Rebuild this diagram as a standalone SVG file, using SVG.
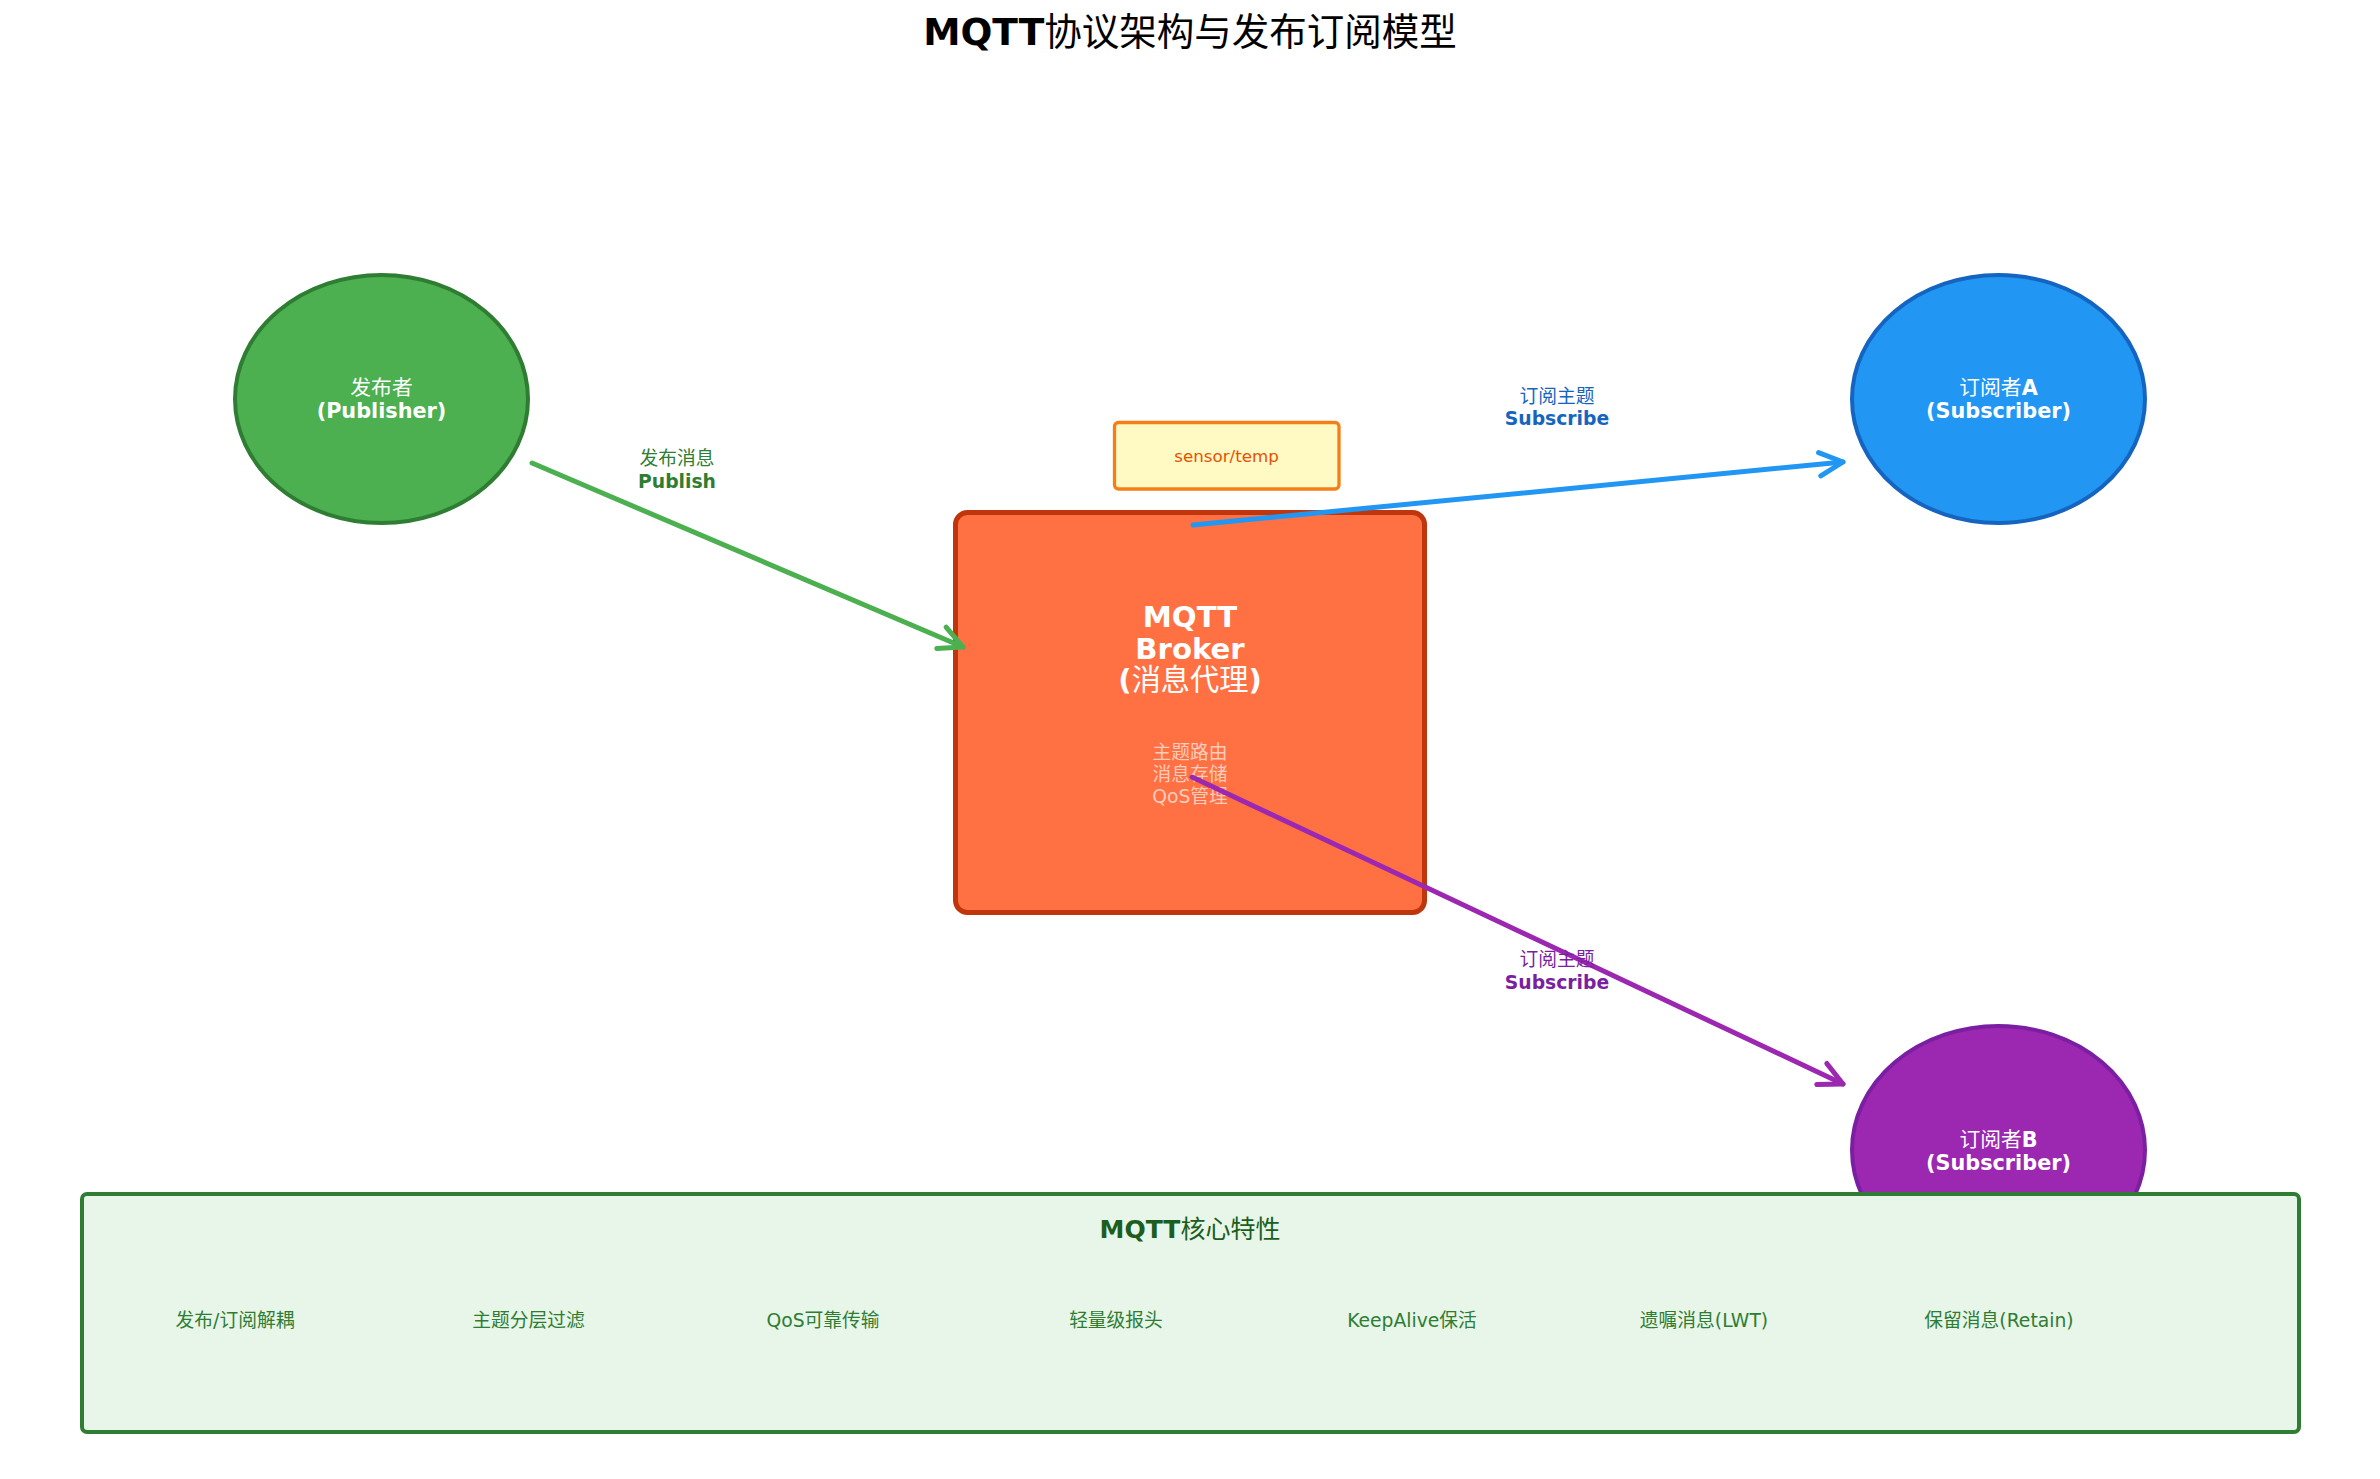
<svg xmlns="http://www.w3.org/2000/svg" width="2380" height="1479" viewBox="0 0 2380 1479">
<style>
text{font-family:"DejaVu Sans","Noto Sans CJK SC",sans-serif;text-anchor:middle}
.b{font-weight:bold}
.node-label{fill:#ffffff;font-size:20.8px}
.edge-label{font-size:18.75px}
.feat{fill:#2E7D32;font-size:18.75px}
.conn{fill:none;stroke-width:5;stroke-linecap:round}
.head{fill:none;stroke-width:5;stroke-linecap:round;stroke-linejoin:round}
</style>
<defs>
<marker id="arrG" markerUnits="userSpaceOnUse" markerWidth="60" markerHeight="60" viewBox="-30 -30 60 60" refX="0" refY="0" orient="auto" overflow="visible"><path class="head" stroke="#4CAF50" d="M-23.4,-11.7 L0,0 L-23.4,11.7"/></marker>
<marker id="arrB" markerUnits="userSpaceOnUse" markerWidth="60" markerHeight="60" viewBox="-30 -30 60 60" refX="0" refY="0" orient="auto" overflow="visible"><path class="head" stroke="#2196F3" d="M-23.4,-11.7 L0,0 L-23.4,11.7"/></marker>
<marker id="arrP" markerUnits="userSpaceOnUse" markerWidth="60" markerHeight="60" viewBox="-30 -30 60 60" refX="0" refY="0" orient="auto" overflow="visible"><path class="head" stroke="#9C27B0" d="M-23.4,-11.7 L0,0 L-23.4,11.7"/></marker>
</defs>
<rect width="2380" height="1479" fill="#ffffff"/>
<text x="1190" y="45" font-size="37.5px" fill="#000000"><tspan class="b">MQTT</tspan>协议架构与发布订阅模型</text>

<g id="publisher">
<ellipse cx="381.5" cy="399" rx="146.5" ry="124" fill="#4CAF50" stroke="#2E7D32" stroke-width="4"/>
<text class="node-label" x="381.5" y="395">发布者</text>
<text class="node-label b" x="381.5" y="418">(Publisher)</text>
</g>

<g id="subscriberA">
<ellipse cx="1998.5" cy="399" rx="146.5" ry="124" fill="#2196F3" stroke="#1565C0" stroke-width="4"/>
<text class="node-label" x="1998.5" y="395">订阅者<tspan class="b">A</tspan></text>
<text class="node-label b" x="1998.5" y="418">(Subscriber)</text>
</g>

<g id="subscriberB">
<ellipse cx="1998.5" cy="1150" rx="146.5" ry="124" fill="#9C27B0" stroke="#7B1FA2" stroke-width="4"/>
<text class="node-label" x="1998.5" y="1147">订阅者<tspan class="b">B</tspan></text>
<text class="node-label b" x="1998.5" y="1170">(Subscriber)</text>
</g>

<g id="broker">
<rect x="955.5" y="512.5" width="469" height="400" rx="12" fill="#FF7043" stroke="#BF360C" stroke-width="5"/>
<text x="1190" y="627" font-size="29.2px" fill="#ffffff" class="b">MQTT</text>
<text x="1190" y="658.5" font-size="29.2px" fill="#ffffff" class="b">Broker</text>
<text x="1190" y="690" font-size="29.2px" fill="#ffffff"><tspan class="b">(</tspan>消息代理<tspan class="b">)</tspan></text>
<text x="1190" y="759" font-size="18.75px" fill="#FFCCBC">主题路由</text>
<text x="1190" y="781" font-size="18.75px" fill="#FFCCBC">消息存储</text>
<text x="1190" y="803" font-size="18.75px" fill="#FFCCBC">QoS管理</text>
</g>

<g id="topic">
<rect x="1114.5" y="422.5" width="224.5" height="66.5" rx="4" fill="#FFF9C4" stroke="#F57F17" stroke-width="3.3"/>
<text x="1226.5" y="462" font-size="16.7px" fill="#E65100">sensor/temp</text>
</g>

<g id="connectors">
<line class="conn" x1="532" y1="463" x2="963" y2="647" stroke="#4CAF50" marker-end="url(#arrG)"/>
<text class="edge-label" x="677" y="465" fill="#2E7D32">发布消息</text>
<text class="edge-label b" x="677" y="488" fill="#2E7D32">Publish</text>
<line class="conn" x1="1193" y1="525" x2="1843" y2="462" stroke="#2196F3" marker-end="url(#arrB)"/>
<text class="edge-label" x="1557" y="403" fill="#1565C0">订阅主题</text>
<text class="edge-label b" x="1557" y="425" fill="#1565C0">Subscribe</text>
<line class="conn" x1="1192" y1="777" x2="1843" y2="1084" stroke="#9C27B0" marker-end="url(#arrP)"/>
<text class="edge-label" x="1557" y="966" fill="#7B1FA2">订阅主题</text>
<text class="edge-label b" x="1557" y="989" fill="#7B1FA2">Subscribe</text>
</g>

<g id="features">
<rect x="82" y="1194" width="2217" height="238" rx="5" fill="#E8F5E9" stroke="#2E7D32" stroke-width="4"/>
<text x="1190" y="1238" font-size="25px" fill="#1B5E20"><tspan class="b">MQTT</tspan>核心特性</text>
<text class="feat" x="235" y="1327">发布/订阅解耦</text>
<text class="feat" x="528.5" y="1327">主题分层过滤</text>
<text class="feat" x="823" y="1327">QoS可靠传输</text>
<text class="feat" x="1116" y="1327">轻量级报头</text>
<text class="feat" x="1412" y="1327">KeepAlive保活</text>
<text class="feat" x="1704" y="1327">遗嘱消息(LWT)</text>
<text class="feat" x="1999" y="1327">保留消息(Retain)</text>
</g>
</svg>
